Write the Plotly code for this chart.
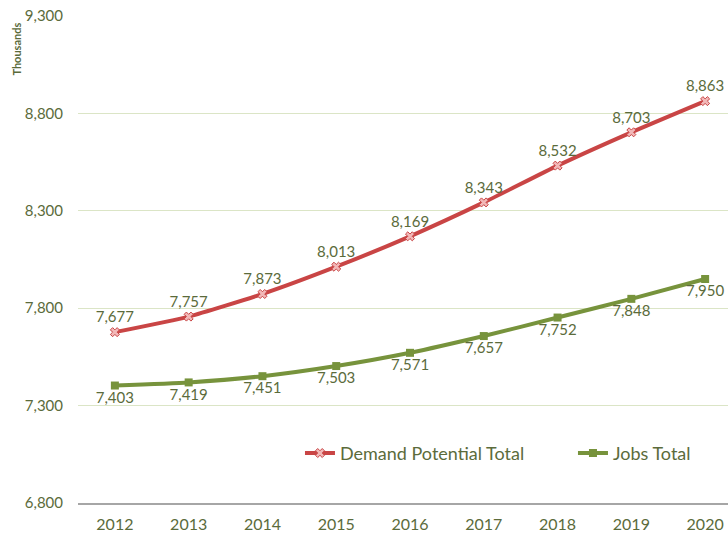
import plotly.graph_objects as go

years = ["2012", "2013", "2014", "2015", "2016", "2017", "2018", "2019", "2020"]
demand = [7677, 7757, 7873, 8013, 8169, 8343, 8532, 8703, 8863]
jobs = [7403, 7419, 7451, 7503, 7571, 7657, 7752, 7848, 7950]
yticks = [6800, 7300, 7800, 8300, 8800, 9300]

txt = "#5b6b3b"
red = "#c94545"
green = "#77933c"
font = "Lato, Carlito, Calibri, sans-serif"

fig = go.Figure()
fig.add_trace(go.Scatter(
    x=years, y=demand, name="Demand Potential Total", legend="legend",
    mode="lines+markers+text", line=dict(color=red, width=4, shape="spline", smoothing=0.5),
    marker=dict(symbol="x", size=8, color="#f2b8b8", line=dict(color=red, width=1)),
    text=[f"{v:,}" for v in demand], textposition="top center", cliponaxis=False,
    textfont=dict(size=15, color=txt, family=font),
))
fig.add_trace(go.Scatter(
    x=years, y=jobs, name="Jobs Total", legend="legend2",
    mode="lines+markers+text", line=dict(color=green, width=4, shape="spline", smoothing=0.5),
    marker=dict(symbol="square", size=8, color=green),
    text=[f"{v:,}" for v in jobs], textposition="bottom center", cliponaxis=False,
    textfont=dict(size=15, color=txt, family=font),
))

leg = dict(orientation="h", yanchor="middle", xanchor="left", itemwidth=30,
           font=dict(size=18, color=txt, family=font), bgcolor="rgba(0,0,0,0)")

fig.update_layout(
    width=728, height=538,
    margin=dict(l=78, r=0, t=16, b=35),
    paper_bgcolor="white", plot_bgcolor="white",
    font=dict(family=font, color=txt, size=15),
    showlegend=True,
    legend=dict(leg, x=0.3415, y=0.102),
    legend2=dict(leg, x=0.7615, y=0.102),
    xaxis=dict(type="category", range=[-0.5, 8.31], showgrid=False, showline=True,
               linecolor="#a6a6a6", linewidth=2, ticks="", ticklabelstandoff=6,
               tickfont=dict(size=16, color=txt)),
    yaxis=dict(range=[6800, 9300], tickvals=yticks, ticktext=[f"{v:,}" for v in yticks],
               showgrid=True, gridcolor="#dbe5c6", gridwidth=1, zeroline=False,
               ticks="", ticklabelstandoff=14, ticklabeloverflow="allow",
               tickfont=dict(size=15, color=txt)),
    annotations=[dict(text="<b>Thousands</b>", textangle=-90, xref="paper", yref="paper",
                      x=-0.095, y=0.99, xanchor="center", yanchor="top",
                      showarrow=False, font=dict(size=11, color=txt, family=font))],
)
fig.write_html("out.html", config={"displayModeBar": False},
               post_script="document.body.style.margin='0';document.body.style.overflow='hidden';")
